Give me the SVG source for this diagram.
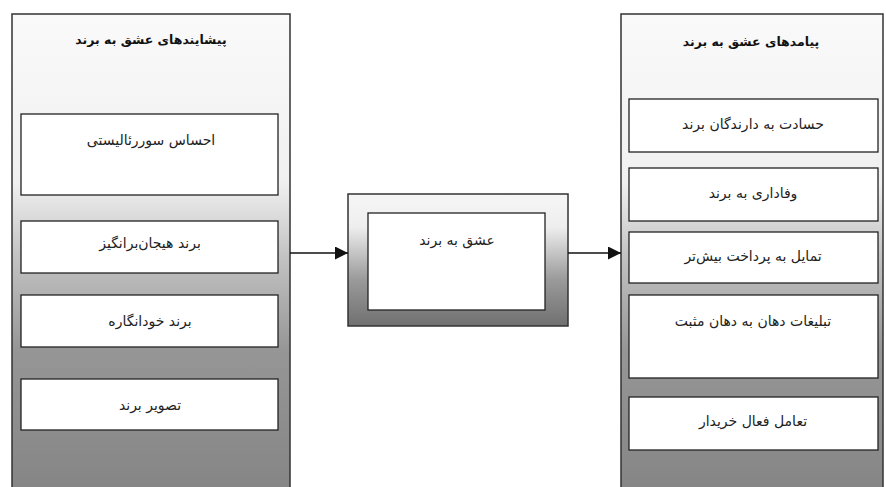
<svg xmlns="http://www.w3.org/2000/svg" width="886" height="487" viewBox="0 0 886 487">
<defs>
<linearGradient id="panelGrad" x1="0" y1="0" x2="0" y2="1">
<stop offset="0" stop-color="#fafafa"/>
<stop offset="0.35" stop-color="#f0f0f0"/>
<stop offset="0.5" stop-color="#c4c4c4"/>
<stop offset="0.7" stop-color="#969696"/>
<stop offset="1" stop-color="#858585"/>
</linearGradient>
<linearGradient id="midGrad" x1="0" y1="0" x2="0" y2="1">
<stop offset="0" stop-color="#f6f6f6"/>
<stop offset="0.25" stop-color="#eeeeee"/>
<stop offset="0.65" stop-color="#9a9a9a"/>
<stop offset="1" stop-color="#707070"/>
</linearGradient>
<marker id="arrow" viewBox="0 0 12 12" refX="12" refY="6" markerWidth="13" markerHeight="13" markerUnits="userSpaceOnUse" orient="auto">
<path d="M0,0 L12,6 L0,12 z" fill="#111"/>
</marker>
<style>
.panel{fill:url(#panelGrad);stroke:#333;stroke-width:1.5}
.box{fill:#fff;stroke:#222;stroke-width:1.3}
.t{font-family:"DejaVu Sans","Noto Sans",sans-serif;font-size:14px;fill:#222;text-anchor:middle;direction:rtl}
.h{font-family:"DejaVu Sans","Noto Sans",sans-serif;font-size:12.5px;font-weight:bold;fill:#111;text-anchor:middle;direction:rtl}
.conn{stroke:#111;stroke-width:1.5;fill:none}
</style>
</defs>
<rect width="886" height="487" fill="#ffffff"/>

<g id="antecedents">
<rect class="panel" x="12" y="14" width="278" height="480"/>
<text class="h" x="151" y="44">پیشایندهای عشق به برند</text>
<g id="a1"><rect class="box" x="21" y="114" width="257" height="81"/><text class="t" x="151" y="145">احساس سوررئالیستی</text></g>
<g id="a2"><rect class="box" x="21" y="221" width="257" height="52"/><text class="t" x="150" y="248">برند هیجان‌برانگیز</text></g>
<g id="a3"><rect class="box" x="21" y="295" width="257" height="52"/><text class="t" x="150" y="326">برند خودانگاره</text></g>
<g id="a4"><rect class="box" x="21" y="379" width="257" height="51"/><text class="t" x="150" y="410">تصویر برند</text></g>
</g>

<g id="love">
<rect x="348" y="194" width="220" height="132" fill="url(#midGrad)" stroke="#333" stroke-width="1.5"/>
<rect class="box" x="368" y="213" width="177" height="97"/>
<text class="t" x="457" y="245">عشق به برند</text>
</g>

<g id="consequences">
<rect class="panel" x="621" y="14" width="262" height="480"/>
<text class="h" x="751" y="46">پیامدهای عشق به برند</text>
<g id="c1"><rect class="box" x="629" y="99" width="249" height="53"/><text class="t" x="753" y="129">حسادت به دارندگان برند</text></g>
<g id="c2"><rect class="box" x="629" y="168" width="249" height="53"/><text class="t" x="753" y="198">وفاداری به برند</text></g>
<g id="c3"><rect class="box" x="629" y="232" width="249" height="51"/><text class="t" x="753" y="261">تمایل به پرداخت بیش‌تر</text></g>
<g id="c4"><rect class="box" x="629" y="295" width="249" height="83"/><text class="t" x="753" y="326">تبلیغات دهان به دهان مثبت</text></g>
<g id="c5"><rect class="box" x="629" y="397" width="249" height="53"/><text class="t" x="753" y="426">تعامل فعال خریدار</text></g>
</g>

<g id="connectors">
<line class="conn" x1="290" y1="253" x2="348" y2="253" marker-end="url(#arrow)"/>
<line class="conn" x1="568" y1="253" x2="621" y2="253" marker-end="url(#arrow)"/>
</g>
</svg>
